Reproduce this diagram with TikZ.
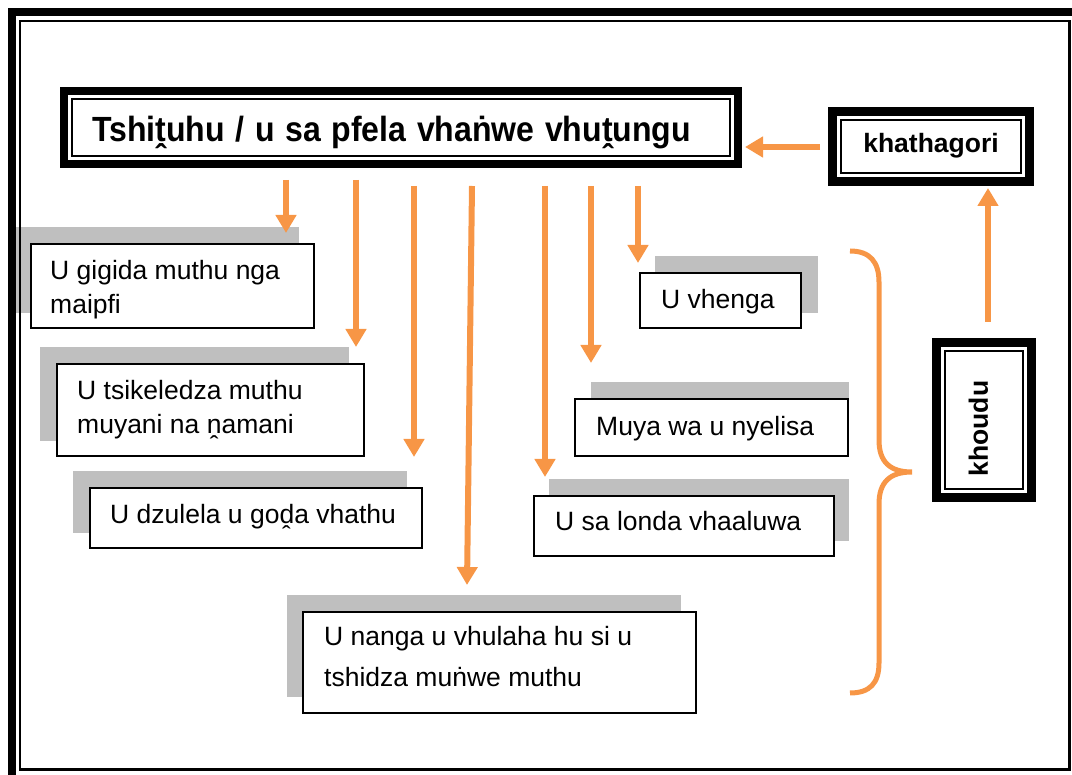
\documentclass[tikz,border=0pt]{standalone}
\usepackage{graphicx}
\usepackage{fontspec}
\setmainfont{Liberation Sans}
\usetikzlibrary{arrows.meta}
\definecolor{accent}{HTML}{F79646}
\definecolor{shade}{HTML}{BFBFBF}
\begin{document}
\begin{tikzpicture}[x=1pt,y=-1pt,
  shadowbox/.style={fill=shade},
  pbox/.style={draw=black, line width=2pt, fill=white, inner sep=0pt, outer sep=0pt},
  ptext/.style={anchor=north west, inner sep=0pt, align=left, font=\fontsize{26.5}{34}\selectfont},
  heavybox/.style={draw=black, fill=white, inner sep=0pt, outer sep=0pt},
  flow/.style={draw=accent, line width=6pt, -{Triangle[width=20pt,length=18pt]}},
]
\useasboundingbox (0,0) rectangle (1072,775);

% drop shadows behind the option boxes
\fill[shadowbox] (14,227) rectangle (299,313);
\fill[shadowbox] (40,347) rectangle (349,441);
\fill[shadowbox] (73,471) rectangle (407,533);
\fill[shadowbox] (287,595) rectangle (681,697);
\fill[shadowbox] (655,256) rectangle (818,313);
\fill[shadowbox] (591,382) rectangle (849,441);
\fill[shadowbox] (549,479) rectangle (849,541);

% option boxes
\node[pbox, minimum width=283pt, minimum height=84pt] (b1) at (172.5,286) {};
\node[pbox, minimum width=307pt, minimum height=92pt] (b2) at (210.5,410) {};
\node[pbox, minimum width=332pt, minimum height=60pt] (b3) at (256,518) {};
\node[pbox, minimum width=393pt, minimum height=101pt] (b4) at (499.5,662.5) {};
\node[pbox, minimum width=161pt, minimum height=55pt] (b5) at (720.5,300.5) {};
\node[pbox, minimum width=273pt, minimum height=57pt] (b6) at (711.5,427.5) {};
\node[pbox, minimum width=300pt, minimum height=60pt] (b7) at (684,526) {};

% texts of the option boxes
\node[ptext] (t1) at (50,255.2) {\strut U gigida muthu nga\\maipfi};
\node[ptext] (t2) at (77,375.2) {\strut U tsikeledza muthu\\muyani na ṋamani};
\node[ptext] (t3) at (110,499.2) {\strut U dzulela u goḓa vhathu};
\node[ptext, font=\fontsize{26.5}{41}\selectfont] (t4) at (324,616.3) {\strut U nanga u vhulaha hu si u\\tshidza muṅwe muthu};
\node[ptext] (t5) at (661,284.2) {\strut U vhenga};
\node[ptext] (t6) at (596,411.2) {\strut Muya wa u nyelisa};
\node[ptext] (t7) at (555,506.2) {\strut U sa londa vhaaluwa};

% heading box with its inner rule (narrowed bold lettering)
\node[heavybox, line width=8pt, minimum width=674pt, minimum height=73pt,
      text width=618pt, inner xsep=28pt, align=left, text height=34pt, text depth=6pt,
      font=\bfseries\fontsize{35}{40}\selectfont] (title) at (401,127.5)
      {\scalebox{0.915}[1]{Tshiṱuhu / u sa pfela vhaṅwe vhuṱungu}};
\draw[line width=2pt] ([shift={(8pt,-8pt)}]title.north west) rectangle ([shift={(-8pt,8pt)}]title.south east);

% category box
\node[heavybox, line width=9pt, minimum width=197pt, minimum height=70pt,
      text height=19pt, text depth=6pt, font=\bfseries\fontsize{26.5}{32}\selectfont] (khath) at (931,146.5) {khathagori};
\draw[line width=2pt] ([shift={(8.5pt,-8.5pt)}]khath.north west) rectangle ([shift={(-8.5pt,8.5pt)}]khath.south east);

% code box with vertical label
\node[heavybox, line width=9pt, minimum width=95pt, minimum height=155pt] (khoudu) at (984,420) {};
\draw[line width=2pt] ([shift={(8.5pt,-8.5pt)}]khoudu.north west) rectangle ([shift={(-8.5pt,8.5pt)}]khoudu.south east);
\node[rotate=90, inner sep=0pt, font=\bfseries\fontsize{26.5}{32}\selectfont] (khouduT) at (978.5,428.5) {khoudu};

% arrow end points
\coordinate (a1s) at (286,180); \coordinate (a1e) at (286,233);
\coordinate (a2s) at (356,180); \coordinate (a2e) at (356,347);
\coordinate (a3s) at (414,186); \coordinate (a3e) at (414,457);
\coordinate (a4s) at (472,186); \coordinate (a4e) at (467,585);
\coordinate (a5s) at (545,186); \coordinate (a5e) at (545,477);
\coordinate (a6s) at (591,186); \coordinate (a6e) at (591,363);
\coordinate (a7s) at (638,186); \coordinate (a7e) at (638,263);
\coordinate (kL) at (820,147); \coordinate (tR) at (745,147);
\coordinate (cU) at (988,322); \coordinate (kB) at (988,188);

\draw[flow] (a1s) -- (a1e);
\draw[flow] (a2s) -- (a2e);
\draw[flow] (a3s) -- (a3e);
\draw[flow] (a4s) -- (a4e);
\draw[flow] (a5s) -- (a5e);
\draw[flow] (a6s) -- (a6e);
\draw[flow] (a7s) -- (a7e);
\draw[flow] (kL) -- (tR);
\draw[flow] (cU) -- (kB);

% curly brace grouping the right-hand boxes
\draw[accent, line width=5pt]
  (850,251) .. controls (870,251) and (879,262) .. (879,282)
  -- (879,440) .. controls (879,462) and (890,472) .. (912,472)
  .. controls (890,472) and (879,482) .. (879,504)
  -- (879,663) .. controls (879,683) and (870,693) .. (850,693);

% page border: heavy outer band and thin inner rule
\draw[line width=8pt] (12,12) rectangle (1090,790);
\draw[line width=2.5pt] (20,21) rectangle (1069.5,769.5);
\end{tikzpicture}
\end{document}
